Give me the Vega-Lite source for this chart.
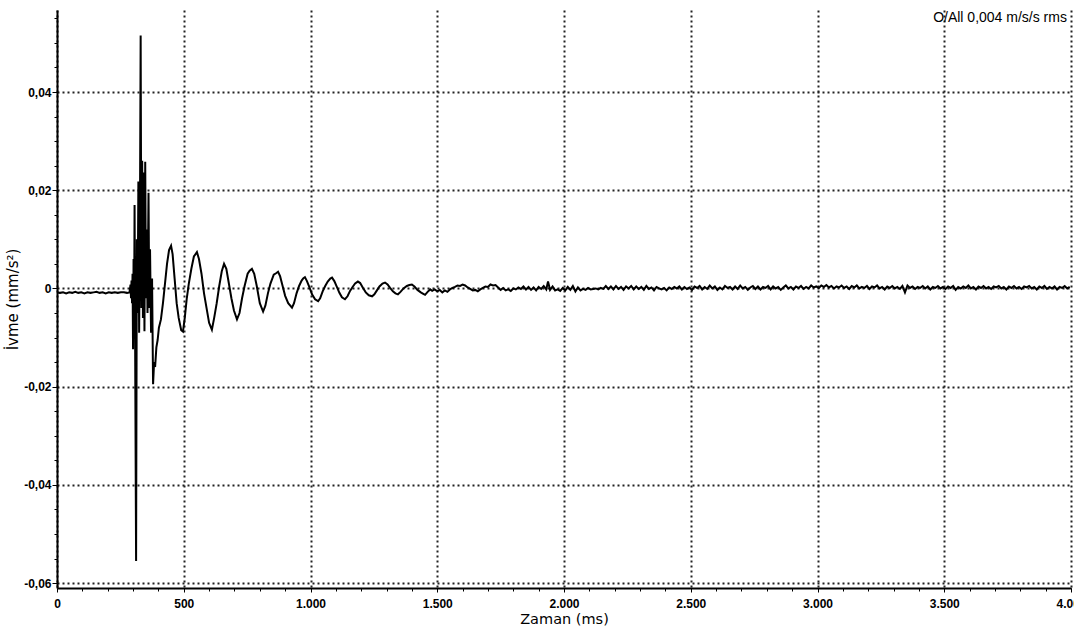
{
"$schema": "https://vega.github.io/schema/vega-lite/v6.json",
"width": 1014,
"height": 578,
"autosize": {"type": "none"},
"padding": {"left": 57, "top": 10, "right": 3, "bottom": 45},
"background": "white",
"config": {
  "locale": {"number": {"decimal": ",", "thousands": ".", "grouping": [3], "currency": ["", ""], "minus": "-"}},
  "view": {"stroke": null},
  "font": "Liberation Sans"
},
"resolve": {"axis": {"x": "independent", "y": "independent"}},
"layer": [
{
"data": {"values": [
{"t":0,"a":-0.0008},{"t":12,"a":-0.0009},{"t":24,"a":-0.0008},{"t":36,"a":-0.001},{"t":48,"a":-0.0008},{"t":60,"a":-0.0009},{"t":72,"a":-0.0007},{"t":84,"a":-0.0009},{"t":96,"a":-0.0008},{"t":108,"a":-0.001},{"t":120,"a":-0.0008},{"t":132,"a":-0.0009},{"t":144,"a":-0.0008},{"t":156,"a":-0.0007},{"t":168,"a":-0.0009},{"t":180,"a":-0.0008},{"t":192,"a":-0.001},{"t":204,"a":-0.0008},{"t":216,"a":-0.0009},{"t":228,"a":-0.0008},{"t":240,"a":-0.0009},{"t":252,"a":-0.0008},{"t":264,"a":-0.0008},{"t":276,"a":-0.0009},{"t":286,"a":-0.0008},
{"t":290,"a":0.0008},{"t":292,"a":-0.002},{"t":294,"a":0.0016},{"t":296,"a":-0.003},{"t":298,"a":0.003},{"t":300,"a":-0.0124},{"t":302,"a":0.006},{"t":304,"a":-0.008},{"t":306,"a":0.017},{"t":309,"a":-0.02},{"t":312,"a":-0.0555},{"t":315,"a":0.01},{"t":318,"a":-0.005},{"t":321,"a":0.0218},{"t":324,"a":-0.009},{"t":327,"a":0.012},{"t":330,"a":0.0515},{"t":333,"a":-0.004},{"t":336,"a":0.026},{"t":339,"a":-0.006},{"t":342,"a":0.0236},{"t":345,"a":-0.0087},{"t":348,"a":0.0258},{"t":351,"a":-0.002},{"t":354,"a":0.012},{"t":357,"a":-0.005},{"t":361,"a":0.0195},{"t":364,"a":-0.004},{"t":367,"a":0.008},{"t":371,"a":-0.009},{"t":375,"a":0.002},{"t":379,"a":-0.0195},{"t":383,"a":-0.015},{"t":387,"a":-0.016},{"t":392,"a":-0.012},{"t":397,"a":-0.0105},{"t":402,"a":-0.008},{"t":410,"a":-0.0063},
{"t":418,"a":-0.003},{"t":426,"a":0.001},{"t":434,"a":0.005},{"t":442,"a":0.0078},{"t":450,"a":0.0087},{"t":456,"a":0.007},{"t":464,"a":0.002},{"t":472,"a":-0.003},{"t":480,"a":-0.006},{"t":490,"a":-0.0085},{"t":497,"a":-0.0088},{"t":504,"a":-0.006},{"t":512,"a":-0.002},{"t":520,"a":0.001},{"t":530,"a":0.004},{"t":540,"a":0.0065},{"t":552,"a":0.0074},{"t":560,"a":0.006},{"t":570,"a":0.003},{"t":580,"a":-0.001},{"t":590,"a":-0.004},{"t":600,"a":-0.007},{"t":611,"a":-0.0084},{"t":620,"a":-0.006},{"t":630,"a":-0.003},{"t":640,"a":0.0005},{"t":650,"a":0.0035},{"t":659,"a":0.005},{"t":668,"a":0.004},{"t":678,"a":0.001},{"t":688,"a":-0.002},{"t":698,"a":-0.0045},{"t":710,"a":-0.0063},{"t":720,"a":-0.005},{"t":730,"a":-0.002},{"t":740,"a":0.0005},{"t":752,"a":0.003},{"t":760,"a":0.0036},{"t":769,"a":0.004},{"t":778,"a":0.003},{"t":788,"a":0.0005},{"t":800,"a":-0.003},{"t":813,"a":-0.0047},{"t":822,"a":-0.0035},{"t":832,"a":-0.001},{"t":842,"a":0.001},{"t":855,"a":0.0028},{"t":864,"a":0.0031},{"t":872,"a":0.0034},{"t":880,"a":0.0025},{"t":890,"a":0.0005},{"t":900,"a":-0.0015},{"t":912,"a":-0.003},{"t":927,"a":-0.0039},{"t":935,"a":-0.003},{"t":945,"a":-0.001},{"t":955,"a":0.0005},{"t":965,"a":0.0016},{"t":972,"a":0.0021},{"t":978,"a":0.0023},{"t":986,"a":0.0015},{"t":996,"a":0.0002},{"t":1006,"a":-0.0012},{"t":1018,"a":-0.0022},{"t":1030,"a":-0.0026},{"t":1038,"a":-0.002},{"t":1048,"a":-0.0006},{"t":1058,"a":0.0005},{"t":1068,"a":0.0014},{"t":1078,"a":0.002},{"t":1085,"a":0.0022},{"t":1094,"a":0.0015},{"t":1104,"a":0.0003},{"t":1114,"a":-0.0009},{"t":1124,"a":-0.0018},{"t":1136,"a":-0.0022},{"t":1146,"a":-0.0016},{"t":1156,"a":-0.0005},{"t":1166,"a":0.0003},{"t":1176,"a":0.001},{"t":1187,"a":0.0014},{"t":1196,"a":0.0011},{"t":1206,"a":0.0002},{"t":1218,"a":-0.0008},{"t":1230,"a":-0.0014},{"t":1243,"a":-0.0016},{"t":1252,"a":-0.0012},{"t":1262,"a":-0.0004},{"t":1272,"a":0.0004},{"t":1284,"a":0.001},{"t":1294,"a":0.0012},{"t":1304,"a":0.0008},{"t":1314,"a":0.0001},{"t":1325,"a":-0.0006},{"t":1335,"a":-0.001},{"t":1345,"a":-0.0012},{"t":1355,"a":-0.0007},{"t":1367,"a":0},{"t":1380,"a":0.0005},{"t":1390,"a":0.0007},{"t":1400,"a":0.0008},{"t":1410,"a":0.0004},{"t":1422,"a":-0.0003},{"t":1435,"a":-0.0008},{"t":1445,"a":-0.0011},{"t":1452,"a":-0.0013},{"t":1462,"a":-0.0007},{"t":1472,"a":-0.0002},
{"t":1480,"a":-0.0005},{"t":1490,"a":-0.0002},{"t":1500,"a":-0.0006},{"t":1510,"a":-0.0003},{"t":1520,"a":-0.0008},{"t":1530,"a":-0.0004},{"t":1540,"a":-0.0007},{"t":1550,"a":-0.0002},{"t":1560,"a":0.0001},{"t":1570,"a":0.0003},{"t":1580,"a":0.0006},{"t":1590,"a":0.0005},{"t":1600,"a":0.0008},{"t":1610,"a":0.0006},{"t":1620,"a":0.0002},{"t":1630,"a":-0.0001},{"t":1640,"a":-0.0004},{"t":1650,"a":-0.0003},{"t":1660,"a":-0.0006},{"t":1670,"a":-0.0002},{"t":1680,"a":0.0001},{"t":1690,"a":0.0004},{"t":1700,"a":0.0003},{"t":1710,"a":0.0008},{"t":1720,"a":0.0006},{"t":1730,"a":0.0007},{"t":1740,"a":0.0002},{"t":1750,"a":-0.0003},{"t":1760,"a":0.0001},{"t":1770,"a":-0.0004},{"t":1780,"a":-0.0002},{"t":1790,"a":-0.0005},{"t":1800,"a":0},{"t":1810,"a":-0.0002},{"t":1820,"a":0.0002},{"t":1830,"a":-0.0001},{"t":1840,"a":0.0004},{"t":1850,"a":-0.0002},{"t":1860,"a":0.0003},{"t":1870,"a":-0.0003},{"t":1880,"a":0.0002},{"t":1890,"a":-0.0004},{"t":1900,"a":0.0003},{"t":1910,"a":-0.0001},{"t":1920,"a":0.0005},{"t":1930,"a":-0.0002},{"t":1937,"a":0.0014},{"t":1945,"a":-0.0003},{"t":1955,"a":0.0004},{"t":1965,"a":-0.0004},{"t":1975,"a":-0.0002},{"t":1985,"a":-0.0005},{"t":1995,"a":0.0001},
{"t":2005,"a":-0.0004},{"t":2015,"a":0.0003},{"t":2025,"a":-0.0003},{"t":2035,"a":0.0005},{"t":2045,"a":-0.0006},{"t":2055,"a":0.0002},{"t":2065,"a":-0.0004},{"t":2075,"a":-0.0001},{"t":2085,"a":-0.0003},{"t":2095,"a":0.0001},{"t":2105,"a":-0.0002},{"t":2115,"a":-0.0001},{"t":2125,"a":0},{"t":2135,"a":-0.0002},{"t":2145,"a":0.0001},{"t":2155,"a":-0.0001},{"t":2165,"a":0.0005},{"t":2175,"a":-0.0001},{"t":2185,"a":0.0004},{"t":2195,"a":-0.0002},{"t":2205,"a":0.0005},{"t":2215,"a":-0.0001},{"t":2225,"a":0.0003},{"t":2235,"a":-0.0003},{"t":2245,"a":0.0004},{"t":2255,"a":0},{"t":2265,"a":0.0005},{"t":2275,"a":-0.0002},{"t":2285,"a":0.0004},{"t":2295,"a":-0.0001},{"t":2305,"a":0.0003},{"t":2315,"a":-0.0003},{"t":2325,"a":0.0005},{"t":2335,"a":-0.0001},{"t":2345,"a":0.0002},{"t":2355,"a":-0.0004},{"t":2365,"a":0.0003},{"t":2375,"a":0},{"t":2385,"a":-0.0002},{"t":2395,"a":0.0001},{"t":2405,"a":-0.0004},{"t":2415,"a":0.0002},{"t":2425,"a":-0.0001},{"t":2435,"a":0.0003},{"t":2445,"a":0},{"t":2455,"a":0.0004},{"t":2465,"a":-0.0002},{"t":2475,"a":0.0003},{"t":2485,"a":-0.0001},{"t":2495,"a":0.0002},
{"t":2505,"a":-0.0003},{"t":2515,"a":0.0004},{"t":2525,"a":0.0001},{"t":2535,"a":0.0005},{"t":2545,"a":-0.0002},{"t":2555,"a":0.0003},{"t":2565,"a":-0.0001},{"t":2575,"a":0.0006},{"t":2585,"a":0},{"t":2595,"a":0.0004},{"t":2605,"a":-0.0003},{"t":2615,"a":0.0002},{"t":2625,"a":-0.0002},{"t":2635,"a":0.0005},{"t":2645,"a":0.0001},{"t":2655,"a":0.0003},{"t":2665,"a":-0.0002},{"t":2675,"a":0.0004},{"t":2685,"a":-0.0001},{"t":2695,"a":0.0006},{"t":2705,"a":0},{"t":2715,"a":0.0003},{"t":2725,"a":-0.0003},{"t":2735,"a":0.0002},{"t":2745,"a":0.0005},{"t":2755,"a":-0.0001},{"t":2765,"a":0.0004},{"t":2775,"a":-0.0002},{"t":2785,"a":0.0003},{"t":2795,"a":0.0001},{"t":2805,"a":0.0005},{"t":2815,"a":-0.0002},{"t":2825,"a":0.0004},{"t":2835,"a":0},{"t":2845,"a":0.0003},{"t":2855,"a":-0.0003},{"t":2865,"a":0.0002},{"t":2875,"a":0.0006},{"t":2885,"a":0},{"t":2895,"a":0.0003},{"t":2905,"a":-0.0002},{"t":2915,"a":0.0004},{"t":2925,"a":0.0001},{"t":2935,"a":0.0005},{"t":2945,"a":-0.0001},{"t":2955,"a":0.0003},{"t":2965,"a":0},{"t":2975,"a":0.0006},{"t":2985,"a":0.0002},{"t":2995,"a":0.0004},
{"t":3005,"a":0.0001},{"t":3015,"a":0.0006},{"t":3025,"a":0.0003},{"t":3035,"a":0.0007},{"t":3045,"a":0.0002},{"t":3055,"a":0.0005},{"t":3065,"a":0},{"t":3075,"a":0.0004},{"t":3085,"a":0.0002},{"t":3095,"a":0.0006},{"t":3105,"a":0.0001},{"t":3115,"a":0.0004},{"t":3125,"a":-0.0001},{"t":3135,"a":0.0005},{"t":3145,"a":0.0002},{"t":3155,"a":0.0006},{"t":3165,"a":0},{"t":3175,"a":0.0003},{"t":3185,"a":0.0001},{"t":3195,"a":0.0005},{"t":3205,"a":-0.0001},{"t":3215,"a":0.0004},{"t":3225,"a":0.0002},{"t":3235,"a":0.0006},{"t":3245,"a":0},{"t":3255,"a":0.0003},{"t":3265,"a":-0.0002},{"t":3275,"a":0.0004},{"t":3285,"a":0.0001},{"t":3295,"a":0.0005},{"t":3305,"a":0},{"t":3315,"a":0.0003},{"t":3325,"a":-0.0001},{"t":3335,"a":0.0005},{"t":3345,"a":-0.0008},{"t":3355,"a":0.0006},{"t":3365,"a":0.0001},{"t":3375,"a":0.0004},{"t":3385,"a":-0.0001},{"t":3395,"a":0.0003},{"t":3405,"a":0.0001},{"t":3415,"a":0.0005},{"t":3425,"a":0},{"t":3435,"a":0.0004},{"t":3445,"a":-0.0002},{"t":3455,"a":0.0003},{"t":3465,"a":0.0001},{"t":3475,"a":0.0005},{"t":3485,"a":0},{"t":3495,"a":0.0003},
{"t":3505,"a":-0.0001},{"t":3515,"a":0.0004},{"t":3525,"a":0.0001},{"t":3535,"a":0.0005},{"t":3545,"a":-0.0003},{"t":3555,"a":0.0003},{"t":3565,"a":0},{"t":3575,"a":0.0004},{"t":3585,"a":0.0001},{"t":3595,"a":0.0006},{"t":3605,"a":0},{"t":3615,"a":0.0003},{"t":3625,"a":-0.0002},{"t":3635,"a":0.0004},{"t":3645,"a":0.0001},{"t":3655,"a":0.0005},{"t":3665,"a":0},{"t":3675,"a":0.0003},{"t":3685,"a":-0.0001},{"t":3695,"a":0.0004},{"t":3705,"a":0.0002},{"t":3715,"a":0.0005},{"t":3725,"a":0},{"t":3735,"a":0.0003},{"t":3745,"a":-0.0002},{"t":3755,"a":0.0004},{"t":3765,"a":0.0001},{"t":3775,"a":0.0005},{"t":3785,"a":0},{"t":3795,"a":0.0003},{"t":3805,"a":-0.0001},{"t":3815,"a":0.0004},{"t":3825,"a":0.0002},{"t":3835,"a":0.0005},{"t":3845,"a":0},{"t":3855,"a":0.0003},{"t":3865,"a":-0.0002},{"t":3875,"a":0.0004},{"t":3885,"a":0.0001},{"t":3895,"a":0.0005},{"t":3905,"a":-0.0001},{"t":3915,"a":0.0003},{"t":3925,"a":0},{"t":3935,"a":0.0004},{"t":3945,"a":-0.0002},{"t":3955,"a":0.0003},{"t":3965,"a":0.0001},{"t":3975,"a":0.0005},{"t":3985,"a":0},{"t":3995,"a":0.0003}
]},
"mark": {"type": "line", "color": "black", "strokeWidth": 2, "clip": true},
"encoding": {
  "x": {"field": "t", "type": "quantitative",
    "scale": {"domain": [0, 4000], "nice": false, "zero": false},
    "axis": {"orient": "bottom", "values": [0, 500, 1000, 1500, 2000, 2500, 3000, 3500, 4000], "format": ",d",
      "title": "Zaman (ms)", "titleFont": "DejaVu Sans", "titleFontWeight": "normal", "titleFontSize": 14.5, "titleColor": "black", "titlePadding": 3,
      "labelFont": "Liberation Sans", "labelFontWeight": "bold", "labelFontSize": 12, "labelColor": "black", "labelPadding": 6, "labelOverlap": false, "labelFlush": false,
      "grid": true, "gridDash": [2, 3], "gridColor": "#222222", "gridWidth": 2,
      "domainColor": "black", "domainWidth": 2, "tickColor": "black", "tickSize": 4, "tickWidth": 1}},
  "y": {"field": "a", "type": "quantitative",
    "scale": {"domain": [-0.061, 0.0567], "nice": false, "zero": false},
    "axis": {"orient": "left", "values": [-0.06, -0.04, -0.02, 0, 0.02, 0.04],
      "labelExpr": "datum.value == 0 ? '0' : format(datum.value, '.2f')",
      "title": "İvme (mm/s²)", "titleFont": "DejaVu Sans", "titleFontWeight": "normal", "titleFontSize": 15, "titleColor": "black", "titlePadding": 3,
      "labelFont": "Liberation Sans", "labelFontWeight": "bold", "labelFontSize": 12, "labelColor": "black", "labelPadding": 1, "labelOverlap": false, "labelFlush": false,
      "grid": true, "gridDash": [2, 3], "gridColor": "#222222", "gridWidth": 2,
      "domainColor": "black", "domainWidth": 2, "tickColor": "black", "tickSize": 5, "tickWidth": 1}}
}
},
{
"data": {"values": [{"t": 0, "a": 0}]},
"mark": {"type": "point", "opacity": 0},
"encoding": {
  "x": {"field": "t", "type": "quantitative",
    "axis": {"orient": "bottom", "values": [0,100,200,300,400,500,600,700,800,900,1000,1100,1200,1300,1400,1500,1600,1700,1800,1900,2000,2100,2200,2300,2400,2500,2600,2700,2800,2900,3000,3100,3200,3300,3400,3500,3600,3700,3800,3900,4000],
      "labels": false, "grid": false, "domain": false, "title": null, "tickColor": "black", "tickSize": 3, "tickWidth": 1}},
  "y": {"field": "a", "type": "quantitative",
    "axis": {"orient": "left", "values": [-0.06,-0.055,-0.05,-0.045,-0.04,-0.035,-0.03,-0.025,-0.02,-0.015,-0.01,-0.005,0,0.005,0.01,0.015,0.02,0.025,0.03,0.035,0.04,0.045,0.05,0.055],
      "labels": false, "grid": false, "domain": false, "title": null, "tickColor": "black", "tickSize": 3, "tickWidth": 1}}
}
},
{
"data": {"values": [{"label": "O/All 0,004 m/s/s rms"}]},
"mark": {"type": "text", "align": "right", "baseline": "middle", "font": "Liberation Sans", "fontSize": 14, "color": "black"},
"encoding": {
  "x": {"datum": 3984, "type": "quantitative", "axis": null},
  "y": {"datum": 0.0551, "type": "quantitative", "axis": null},
  "text": {"field": "label", "type": "nominal"}
}
}
]
}
